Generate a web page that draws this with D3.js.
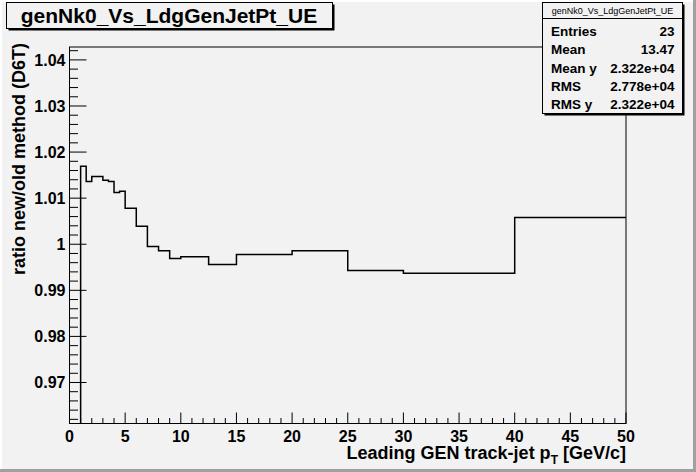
<!DOCTYPE html>
<html><head><meta charset="utf-8">
<script src="https://cdn.jsdelivr.net/npm/d3@7"></script>
<style>
html,body{margin:0;padding:0;background:#f2f2f2;}
svg{display:block;}
text{font-family:"Liberation Sans",Arial,Helvetica,sans-serif;}
</style></head>
<body><svg id="c" width="696" height="472"></svg>
<script>
// ---- data ----
const binEdges = [1, 1.5, 2, 3, 3.5, 4, 4.5, 5, 6, 7, 8, 9, 10, 12.5, 15, 20, 25, 30, 40, 50];
const ratios = [1.0169, 1.0136, 1.0147, 1.0139, 1.0136, 1.0112, 1.0115, 1.0078, 1.0039,
                0.9995, 0.9986, 0.9969, 0.9973, 0.9956, 0.9978, 0.9986, 0.9943, 0.9937, 1.0058];
const xTicks = [0, 5, 10, 15, 20, 25, 30, 35, 40, 45, 50];
const yTicks = [0.97, 0.98, 0.99, 1.00, 1.01, 1.02, 1.03, 1.04];
const titleText = "genNk0_Vs_LdgGenJetPt_UE";
const statLabels = ["Entries", "Mean", "Mean y", "RMS", "RMS y"];
const statValues = ["23", "13.47", "2.322e+04", "2.778e+04", "2.322e+04"];
const yTitle = "ratio new/old method (D6T)";

// ---- layout ----
const W = 696, H = 472;
const L = 69.5, R = 626, T = 47, B = 423.5;
const svg = d3.select("#c");
svg.append("rect").attr("width", W).attr("height", H).attr("fill", "#f2f2f2");
// canvas bevel
svg.append("rect").attr("x", 0).attr("y", 0).attr("width", W).attr("height", 2).attr("fill", "#ffffff");
svg.append("rect").attr("x", 0).attr("y", 0).attr("width", 2).attr("height", H).attr("fill", "#ffffff");
svg.append("rect").attr("x", W - 3).attr("y", 0).attr("width", 3).attr("height", H).attr("fill", "#a0a0a0");
svg.append("rect").attr("x", 0).attr("y", H - 3).attr("width", W).attr("height", 3).attr("fill", "#a0a0a0");

const x = d3.scaleLinear().domain([0, 50]).range([L, R]);
const y = d3.scaleLinear().domain([0.9611, 1.0428]).range([B, T]);

// frame
svg.append("rect").attr("x", L).attr("y", T).attr("width", R - L).attr("height", B - T)
  .attr("fill", "#f2f2f2").attr("stroke", "#000").attr("stroke-width", 1);

// histogram
const pts = [[binEdges[0], y.domain()[0]]];
ratios.forEach((v, i) => { pts.push([binEdges[i], v]); pts.push([binEdges[i + 1], v]); });
svg.append("path").datum(pts)
  .attr("d", d3.line().x(d => x(d[0])).y(d => y(d[1])))
  .attr("fill", "none").attr("stroke", "#000").attr("stroke-width", 1.5);

// x axis ticks
const xMinor = d3.range(0, 51, 1);
svg.append("g").selectAll("line").data(xMinor).join("line")
  .attr("x1", d => x(d)).attr("x2", d => x(d))
  .attr("y1", B).attr("y2", d => B - (d % 5 === 0 ? 11 : 5.5))
  .attr("stroke", "#000").attr("stroke-width", 1);
svg.append("g").selectAll("text").data(xTicks).join("text")
  .attr("x", d => x(d)).attr("y", 441.5).attr("text-anchor", "middle")
  .attr("font-size", 16).attr("font-weight", "bold").text(d => d);

// y axis ticks
const yMinor = d3.range(0, 42).map(i => 0.962 + i * 0.002).filter(v => v >= y.domain()[0] && v <= y.domain()[1]);
svg.append("g").selectAll("line").data(yMinor).join("line")
  .attr("y1", d => y(d)).attr("y2", d => y(d))
  .attr("x1", L).attr("x2", d => L + (Math.abs(Math.round(d * 100) - d * 100) < 1e-6 ? 17 : 8.5))
  .attr("stroke", "#000").attr("stroke-width", 1);
svg.append("g").selectAll("text").data(yTicks).join("text")
  .attr("x", 65.5).attr("y", d => y(d) + 6).attr("text-anchor", "end")
  .attr("font-size", 16).attr("font-weight", "bold")
  .text(d => d === 1 ? "1" : d3.format(".2f")(d));

// axis titles
const xt = svg.append("text").attr("x", R).attr("y", 459).attr("text-anchor", "end")
  .attr("font-size", 18).attr("font-weight", "bold");
xt.append("tspan").text("Leading GEN track-jet p");
xt.append("tspan").attr("font-size", 12).attr("dy", 5).text("T");
xt.append("tspan").attr("dy", -5).text(" [GeV/c]");

svg.append("text").attr("transform", `translate(25,${T - 4}) rotate(-90)`)
  .attr("text-anchor", "end").attr("font-size", 18).attr("font-weight", "bold").text(yTitle);

// title box
svg.append("rect").attr("x", 8.5).attr("y", 4.5).attr("width", 326).attr("height", 26).attr("fill", "#000");
svg.append("rect").attr("x", 6.5).attr("y", 2.5).attr("width", 326).attr("height", 26)
  .attr("fill", "#f2f2f2").attr("stroke", "#000").attr("stroke-width", 1);
svg.append("text").attr("x", 169).attr("y", 22.5).attr("text-anchor", "middle")
  .attr("font-size", 21).attr("font-weight", "bold").text(titleText);

// stats box
const sx = 542.5, sy = 2.5, sw = 140, sh = 111;
svg.append("rect").attr("x", sx + 2).attr("y", sy + 2).attr("width", sw).attr("height", sh).attr("fill", "#000");
svg.append("rect").attr("x", sx).attr("y", sy).attr("width", sw).attr("height", sh)
  .attr("fill", "#f2f2f2").attr("stroke", "#000").attr("stroke-width", 1);
svg.append("line").attr("x1", sx).attr("x2", sx + sw).attr("y1", 18.5).attr("y2", 18.5).attr("stroke", "#000");
svg.append("text").attr("x", sx + sw / 2).attr("y", 14).attr("text-anchor", "middle")
  .attr("font-size", 9).text(titleText);
const rows = statLabels.map((l, i) => ({ l, v: statValues[i], i }));
svg.append("g").selectAll("text.l").data(rows).join("text")
  .attr("x", 551).attr("y", d => 36 + d.i * 18.3).attr("font-size", 13.5).attr("font-weight", "bold").text(d => d.l);
svg.append("g").selectAll("text.v").data(rows).join("text")
  .attr("x", 674.5).attr("y", d => 36 + d.i * 18.3).attr("text-anchor", "end")
  .attr("font-size", 13.5).attr("font-weight", "bold").text(d => d.v);
</script></body></html>
